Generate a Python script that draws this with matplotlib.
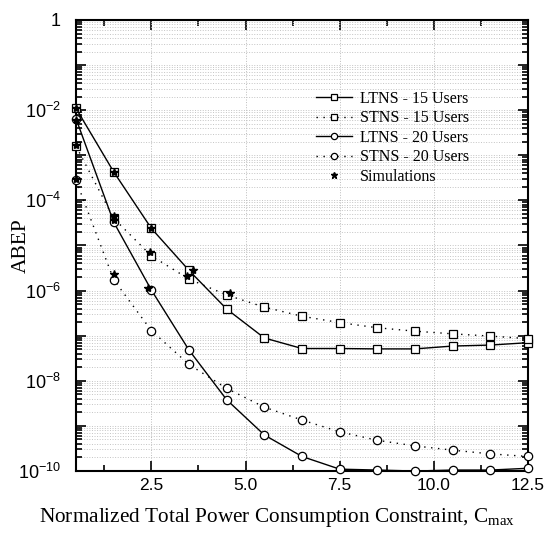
import numpy as np
import matplotlib
matplotlib.use('Agg')
import matplotlib.pyplot as plt
from matplotlib.ticker import LogLocator, FixedLocator, NullFormatter

plt.rcParams['mathtext.fontset'] = 'custom'
plt.rcParams['mathtext.rm'] = 'Liberation Serif'
plt.rcParams['mathtext.sf'] = 'Liberation Sans'
plt.rcParams['mathtext.it'] = 'Liberation Serif:italic'

## Dados
cmax = [0.5, 1.5, 2.5, 3.5, 4.5, 5.5, 6.5, 7.5, 8.5, 9.5, 10.5, 11.5, 12.5]
ltns15 = [1.1e-2, 4.3e-4, 2.4e-5, 2.8e-6, 3.9e-7, 8.9e-8, 5.2e-8, 5.2e-8, 5.1e-8, 5.1e-8, 5.9e-8, 6.2e-8, 7.0e-8]
stns15 = [1.6e-3, 4.0e-5, 5.9e-6, 1.8e-6, 8.0e-7, 4.3e-7, 2.7e-7, 1.95e-7, 1.5e-7, 1.26e-7, 1.1e-7, 9.8e-8, 8.6e-8]
ltns20 = [6.5e-3, 3.3e-5, 1.03e-6, 4.8e-8, 3.8e-9, 6.3e-10, 2.1e-10, 1.1e-10, 1.05e-10, 1.0e-10, 1.05e-10, 1.05e-10, 1.15e-10]
stns20 = [2.8e-4, 1.75e-6, 1.3e-7, 2.3e-8, 6.8e-9, 2.6e-9, 1.35e-9, 7.4e-10, 4.8e-10, 3.6e-10, 2.9e-10, 2.4e-10, 2.1e-10]

sim_x = [0.5, 0.5, 0.5, 0.5, 1.5, 1.5, 1.5, 1.5, 2.5, 2.47, 2.42, 3.45, 3.6, 4.6]
sim_y = [1.1e-2, 6e-3, 1.7e-3, 3e-4, 4.3e-4, 4.6e-5, 3.6e-5, 2.3e-6, 2.4e-5, 7e-6, 1.15e-6, 2.1e-6, 2.9e-6, 9e-7]

xticks = [2.5, 5.0, 7.5, 10.0, 12.5]
xlabels = ['2.5', '5.0', '7.5', '10.0', '12.5']
ylabels = ['1', '', r'$\mathsf{10^{-2}}$', '', r'$\mathsf{10^{-4}}$', '', r'$\mathsf{10^{-6}}$', '',
           r'$\mathsf{10^{-8}}$', '', r'$\mathsf{10^{-10}}$']

fig = plt.figure(figsize=(5.48, 5.33), dpi=100)
ax = fig.add_axes([0.1387, 0.1163, 0.8248, 0.8462])

dot = (0, (1, 4))
mk = dict(color='k', lw=1.0, ms=6, mfc='white', mec='k', mew=0.9, clip_on=False, zorder=3)
ax.plot(cmax, ltns15, '-', marker='s', label='LTNS - 15 Users', **mk)
ax.plot(cmax, stns15, linestyle=dot, marker='s', label='STNS - 15 Users', **mk)
ax.plot(cmax, ltns20, '-', marker='o', label='LTNS - 20 Users', **mk)
ax.plot(cmax, stns20, linestyle=dot, marker='o', label='STNS - 20 Users', **mk)
ax.plot(sim_x, sim_y, '*', color='k', ms=6, lw=0, label='Simulations', clip_on=False, zorder=4)

ax.set_yscale('log')
ax.set_xlim(0.5, 12.5)
ax.set_ylim(1e-10, 1)

ax.xaxis.set_major_locator(FixedLocator(xticks))
ax.xaxis.set_minor_locator(FixedLocator([1.25, 3.75, 6.25, 8.75, 11.25]))
ax.set_xticklabels(xlabels, family='Liberation Sans', fontsize=12.5)

ax.yaxis.set_minor_locator(LogLocator(base=10, subs=np.arange(2, 10), numticks=20))
ax.yaxis.set_minor_formatter(NullFormatter())
ax.set_yticks([10.0 ** -k for k in range(11)])
ax.set_yticklabels(ylabels, family='Liberation Sans', fontsize=13)

ax.tick_params(which='both', direction='in', top=True, right=True, width=1.2)
ax.tick_params(which='major', length=7)
ax.tick_params(axis='x', which='major', pad=5)
ax.tick_params(axis='y', which='major', pad=11)
ax.tick_params(which='minor', length=4)
for s in ax.spines.values():
    s.set_linewidth(1.5)

ax.grid(True, which='major', axis='x', color='#bbbbbb', linestyle=':', lw=0.7)
ax.grid(True, which='both', axis='y', color='#c4c4c4', linestyle=':', lw=0.7)

ax.set_xlabel(r'Normalized Total Power Consumption Constraint, C$_{\mathrm{max}}$',
              family='Liberation Serif', fontsize=15.3, ha='left')
ax.xaxis.set_label_coords(-0.082, -0.078)
ax.set_ylabel('ABEP', family='Liberation Serif', fontsize=15.5)
ax.yaxis.set_label_coords(-0.1, 0.5)

leg = ax.legend(loc='upper left', bbox_to_anchor=(0.5, 0.875), frameon=False,
                prop={'family': 'Liberation Serif', 'size': 11.5},
                handlelength=2.2, handletextpad=0.5, labelspacing=0.22, markerscale=0.75)

plt.savefig('out.png', dpi=100)
